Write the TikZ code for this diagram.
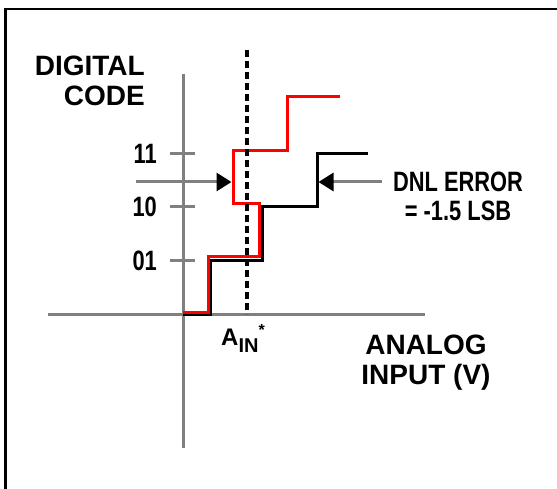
\documentclass[tikz,border=0pt]{standalone}
\usepackage{fontspec}
\setmainfont{Liberation Sans}
\newfontfamily\narrowfont[FakeStretch=0.78]{Liberation Sans}
\usetikzlibrary{arrows.meta}

\begin{document}
\begin{tikzpicture}[x=1pt,y=-1pt,
  axisline/.style={draw=black!50,line width=3pt},
  stairline/.style={line width=3pt,line join=miter},
  errarrow/.style={draw=black!50,line width=3pt,-{Triangle[length=15pt,width=18pt,color=black]}},
  ticklabel/.style={inner sep=0pt,anchor=base east,font=\narrowfont\bfseries\fontsize{28}{28}\selectfont},
  biglabel/.style={inner sep=0pt,font=\bfseries\fontsize{28}{30}\selectfont}]
\useasboundingbox (0,0) rectangle (557,489);

% frame, open to the right and the bottom
\draw[line width=2.5pt] (5.5,489) -- (5.5,9) -- (557,9);

% axes
\draw[axisline] (183,74) -- (183,448);
\draw[axisline] (48,314) -- (425,314);

% code ticks
\foreach \yy/\code in {154/11, 207/10, 261/01} {
  \draw[axisline] (170,\yy) -- (195,\yy);
  \node[ticklabel] (code\code) at (157,\yy+10) {\code};
}

% ideal-ish transfer curve (black) and the one with the error (red)
\draw[stairline,black] (183,314) -- (210,314) -- (210,261) -- (262,261) -- (262,207)
  -- (317,207) -- (317,154) -- (368,154);
\draw[stairline,red] (183,312) -- (208,312) -- (208,257) -- (259,257) -- (259,204)
  -- (233,204) -- (233,151) -- (287,151) -- (287,97) -- (340,97);

% input level
\draw[line width=4pt,dash pattern=on 7pt off 4pt] (247,50) -- (247,314);

% arrows to the two steps
\coordinate (leftend) at (136,182);
\coordinate (redstep) at (231.5,182);
\coordinate (rightend) at (382,182);
\coordinate (blackstep) at (318.5,182);
\draw[errarrow] (leftend) -- (redstep);
\draw[errarrow] (rightend) -- (blackstep);

% labels (base = last line)
\node[biglabel,anchor=base east,align=right] (ylabel) at (145,106) {DIGITAL\\CODE};
\node[biglabel,anchor=base,align=center] (xlabel) at (426,384) {ANALOG\\INPUT (V)};
\node[inner sep=0pt,anchor=base,align=center,font=\narrowfont\bfseries\fontsize{28}{29}\selectfont]
  (dnl) at (458,221) {DNL ERROR\\= -1.5 LSB};
\node[inner sep=0pt,anchor=base west,font=\bfseries\fontsize{24}{24}\selectfont] (ain) at (221,345)
  {A\raisebox{-7pt}{\fontsize{20}{20}\selectfont IN}\raisebox{10pt}{\fontsize{16}{16}\selectfont *}};
\end{tikzpicture}
\end{document}
